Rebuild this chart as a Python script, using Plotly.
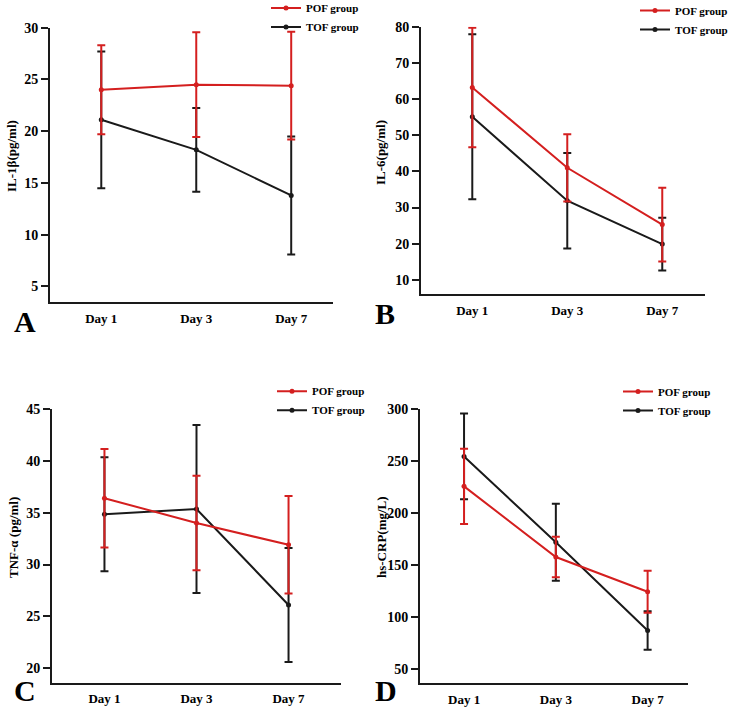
import plotly.graph_objects as go

days = ["Day 1", "Day 3", "Day 7"]

# Panel A: IL-1β (pg/ml)
il1b_pof = [24.0, 24.5, 24.4]
il1b_pof_sd = [4.3, 5.05, 5.2]
il1b_tof = [21.1, 18.2, 13.8]
il1b_tof_sd = [6.6, 4.05, 5.7]

# Panel B: IL-6 (pg/ml)
il6_pof = [63.2, 41.0, 25.3]
il6_pof_sd = [16.5, 9.3, 10.2]
il6_tof = [55.1, 31.9, 19.9]
il6_tof_sd = [22.8, 13.2, 7.3]

# Panel C: TNF-α (pg/ml)
tnf_pof = [36.4, 34.0, 31.9]
tnf_pof_sd = [4.75, 4.55, 4.7]
tnf_tof = [34.85, 35.35, 26.1]
tnf_tof_sd = [5.5, 8.1, 5.5]

# Panel D: hs-CRP (mg/L)
crp_pof = [225.8, 157.8, 124.4]
crp_pof_sd = [36.2, 19.5, 20.2]
crp_tof = [254.6, 172.0, 87.0]
crp_tof_sd = [41.3, 37.0, 18.5]

group_names = ["POF group", "TOF group"]
y_titles = ["IL-1β(pg/ml)", "IL-6(pg/ml)", "TNF-α (pg/ml)", "hs-CRP(mg/L)"]
panel_letters = ["A", "B", "C", "D"]

RED = "#d41f1f"
BLACK = "#1a1a1a"
FONT = "Liberation Serif"
W, H = 733, 717

panels = [
    (il1b_pof, il1b_pof_sd, il1b_tof, il1b_tof_sd),
    (il6_pof, il6_pof_sd, il6_tof, il6_tof_sd),
    (tnf_pof, tnf_pof_sd, tnf_tof, tnf_tof_sd),
    (crp_pof, crp_pof_sd, crp_tof, crp_tof_sd),
]

# layout geometry (pixels)
x_dom_px = [(50, 333), (421, 705), (52, 341), (420, 688)]
y_dom_px = [(27.7, 302), (26.7, 294), (409, 682.7), (409.3, 683.3)]
x_ranges = [[-0.54, 2.44], [-0.54, 2.45], [-0.57, 2.57], [-0.48, 2.44]]
y_ranges = [[3.5, 30], [6.1, 80], [18.6, 45], [36.2, 300]]
y_dticks = [5, 10, 5, 50]
y_tick0 = [5, 10, 20, 50]
legend_pos = [(266, 17.4, "left"), (733, 20, "right"), (272, 400.7, "left"), (618, 401, "left")]
ytitle_pos = [(11, 156), (381, 153), (13, 538), (381, 537)]
letter_pos = [(25, 322), (385, 313), (25, 690), (386, 690)]

fig = go.Figure()
layout = dict(
    width=W, height=H,
    margin=dict(l=0, r=0, t=0, b=0, autoexpand=False),
    paper_bgcolor="white", plot_bgcolor="white",
    font=dict(family=FONT, color="black"),
    annotations=[],
)

for i, (pof, pof_sd, tof, tof_sd) in enumerate(panels):
    n = "" if i == 0 else str(i + 1)
    xa, ya = "x" + n, "y" + n
    lg = "legend" + n
    for name, vals, sd, col, rank in [
        (group_names[1], tof, tof_sd, BLACK, 2),
        (group_names[0], pof, pof_sd, RED, 1),
    ]:
        fig.add_trace(go.Scatter(
            x=days, y=vals, name=name, mode="lines+markers",
            line=dict(color=col, width=2),
            marker=dict(color=col, size=5, symbol="circle"),
            error_y=dict(type="data", array=sd, visible=True,
                         color=col, thickness=2, width=4),
            xaxis=xa, yaxis=ya, legend=lg, legendrank=rank,
        ))
    xd = [x_dom_px[i][0] / W, x_dom_px[i][1] / W]
    yd = [1 - y_dom_px[i][1] / H, 1 - y_dom_px[i][0] / H]
    layout["xaxis" + n] = dict(
        domain=xd, range=x_ranges[i], anchor=ya,
        showline=True, linecolor=BLACK, linewidth=2,
        ticks="outside", ticklen=3, tickcolor="rgba(0,0,0,0)",
        showgrid=False, zeroline=False,
        tickfont=dict(family=FONT, size=13, weight="bold", color="black"),
    )
    layout["yaxis" + n] = dict(
        domain=yd, range=y_ranges[i], anchor=xa,
        showline=True, linecolor=BLACK, linewidth=2,
        ticks="outside", ticklen=7, tickwidth=2, tickcolor=BLACK,
        tick0=y_tick0[i], dtick=y_dticks[i],
        showgrid=False, zeroline=False,
        tickfont=dict(family=FONT, size=14, weight="bold", color="black"),
    )
    lx, ly, lanchor = legend_pos[i]
    layout[lg] = dict(
        x=lx / W, y=1 - ly / H, xanchor=lanchor, yanchor="middle",
        xref="paper", yref="paper",
        bgcolor="rgba(0,0,0,0)", borderwidth=0,
        itemwidth=30, tracegroupgap=0,
        font=dict(family=FONT, size=11, weight="bold", color="black"),
    )
    tx, ty = ytitle_pos[i]
    layout["annotations"].append(dict(
        text=y_titles[i], x=tx / W, y=1 - ty / H, xref="paper", yref="paper",
        textangle=-90, showarrow=False, xanchor="center", yanchor="middle",
        font=dict(family=FONT, size=13, weight="bold", color="black"),
    ))
    px_, py_ = letter_pos[i]
    layout["annotations"].append(dict(
        text=panel_letters[i], x=px_ / W, y=1 - py_ / H, xref="paper", yref="paper",
        showarrow=False, xanchor="center", yanchor="middle",
        font=dict(family=FONT, size=30, weight="bold", color="black"),
    ))

fig.update_layout(**layout)
fig.write_html("out.html", config={"displayModeBar": False},
               post_script="document.body.style.margin='0';")
